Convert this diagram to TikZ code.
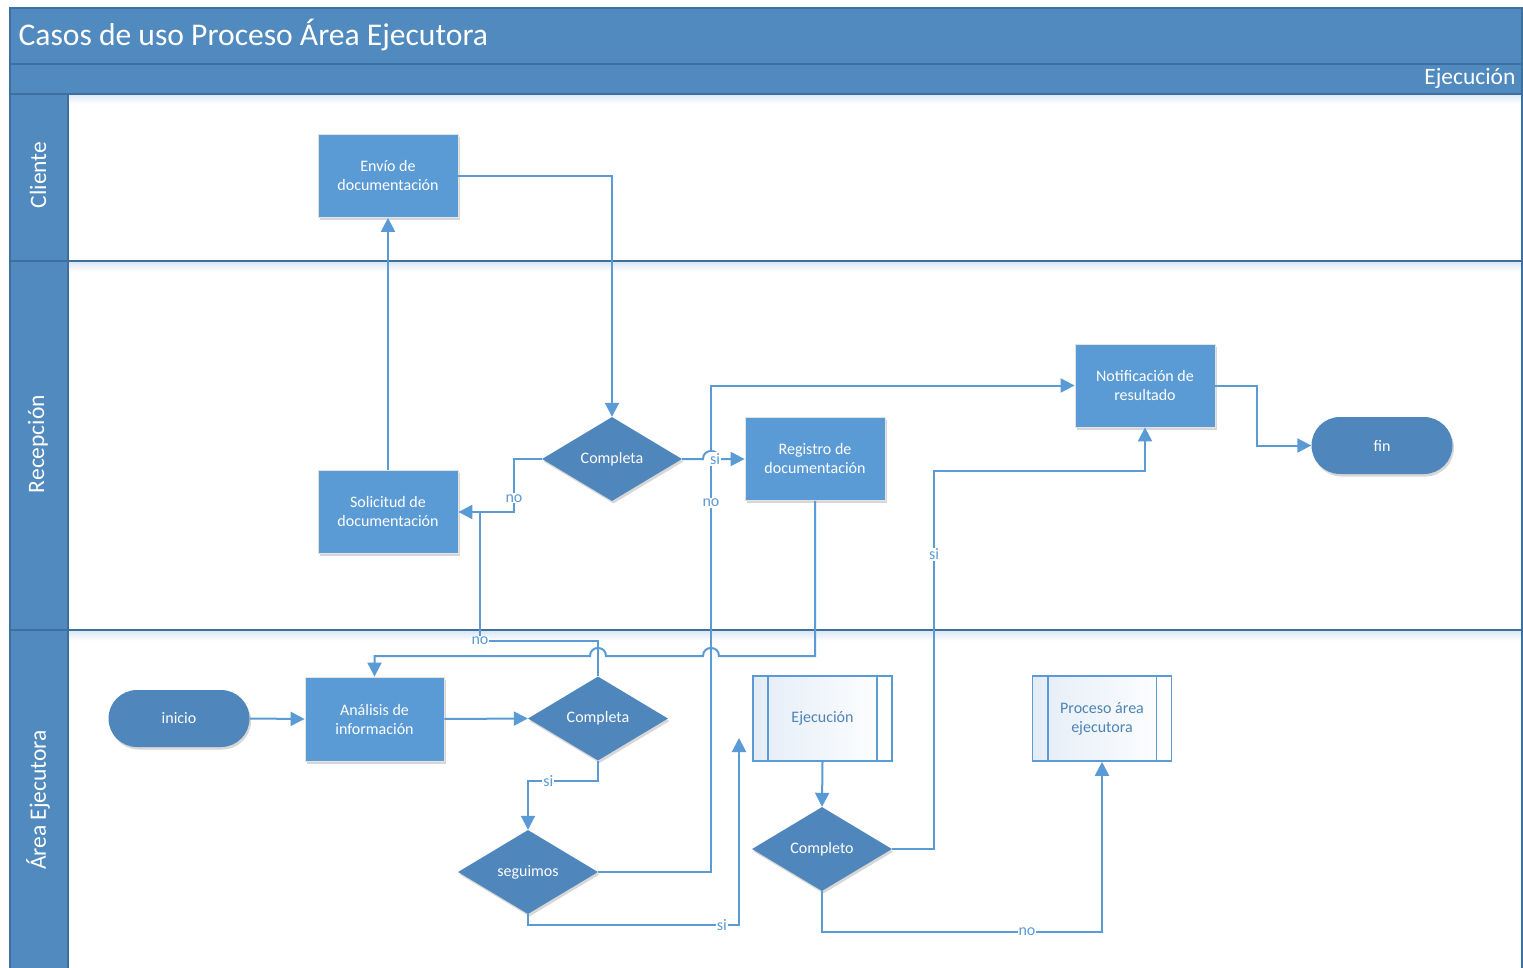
\documentclass[tikz,border=0pt]{standalone}
\usepackage{fontspec}
\setmainfont{Carlito}
\usetikzlibrary{arrows.meta,shapes.geometric,shadows,calc}

\definecolor{cBand}{HTML}{508ABE}
\definecolor{cBandLine}{HTML}{3F6F9F}
\definecolor{cProc}{HTML}{5B9BD5}
\definecolor{cDec}{HTML}{4F86BB}
\definecolor{cFlow}{HTML}{5B9BD5}
\definecolor{cHaze}{HTML}{DDE8F5}

\begin{document}
\begin{tikzpicture}[x=1pt,y=-1pt,
  softshadow/.style={drop shadow={shadow xshift=1.5pt,shadow yshift=-2.5pt,opacity=0.22,fill=black!70}},
  procbox/.style={rectangle,fill=cProc,draw=white!78!gray,line width=0.8pt,
    minimum width=140pt,minimum height=83pt,inner sep=2pt,text=white,align=center,
    font=\fontsize{16}{19}\selectfont,softshadow},
  decbox/.style={diamond,fill=cDec,draw=none,minimum width=140pt,minimum height=84pt,
    inner sep=0pt,text=white,font=\fontsize{16}{19}\selectfont,softshadow},
  termbox/.style={rectangle,rounded corners=28.5pt,fill=cDec,draw=none,minimum width=141pt,
    minimum height=57pt,text=white,font=\fontsize{16}{19}\selectfont,softshadow},
  subbox/.style={rectangle,left color=cHaze!80,right color=white,draw=cFlow,line width=1.6pt,
    minimum width=139pt,minimum height=85pt,text=cFlow!85!black,align=center,
    font=\fontsize{16}{19}\selectfont},
  flow/.style={draw=cFlow,line width=2pt,-{Triangle[length=14pt,width=14pt]}},
  flowline/.style={draw=cFlow,line width=2pt},
  lbl/.style={fill=white,inner sep=1pt,text=cFlow,font=\fontsize{16}{18}\selectfont},
  lanetitle/.style={rotate=90,text=white,font=\fontsize{23.5}{27}\selectfont},
]
\useasboundingbox (0,0) rectangle (1523,968);

% ---- swimlane frame ----
\fill[white] (10,94) rectangle (1522,975);
\shade[top color=cHaze,bottom color=white] (68,94) rectangle (1522,104);
\shade[top color=cHaze,bottom color=white] (68,262) rectangle (1522,272);
\shade[top color=cHaze,bottom color=white] (68,631) rectangle (1522,641);
\fill[cBand] (10,8) rectangle (1522,94);
\fill[cBand] (10,94) rectangle (68,975);
\draw[cBandLine,line width=1.5pt] (10,64) -- (1522,64);
\draw[cBandLine,line width=1.5pt] (10,94) -- (1522,94);
\draw[cBandLine,line width=1.5pt] (10,261) -- (1522,261);
\draw[cBandLine,line width=1.5pt] (10,630) -- (1522,630);
\draw[cBandLine,line width=1.5pt] (68,94) -- (68,975);
\draw[cBandLine,line width=1.5pt] (10,975) -- (10,8) -- (1522,8) -- (1522,975);

\node[anchor=west,text=white,font=\fontsize{31.6}{36}\selectfont] (title) at (15,35) {Casos de uso Proceso Área Ejecutora};
\node[anchor=east,text=white,font=\fontsize{23.5}{27}\selectfont] (phase) at (1519,78) {Ejecución};
\node[lanetitle] (laneA) at (38,175) {Cliente};
\node[lanetitle] (laneB) at (38,444) {Recepción};
\node[lanetitle] (laneC) at (38,800) {Área Ejecutora};

% ---- nodes ----
\node[procbox] (envio) at (388,176) {Envío de\\documentación};
\node[procbox] (solic) at (388,512) {Solicitud de\\documentación};
\node[decbox]  (comp1) at (612,459) {Completa};
\node[procbox] (reg)   at (815,459) {Registro de\\documentación};
\node[procbox] (notif) at (1145,385.5) {Notificación de\\resultado};
\node[termbox] (fin)   at (1382,445.5) {fin};

\node[termbox] (inicio) at (179,718.5) {inicio};
\node[procbox,minimum width=139pt,minimum height=84pt] (anal) at (374.5,719) {Análisis de\\información};
\node[decbox]  (comp2) at (598,718.5) {Completa};
\node[decbox]  (segu)  at (528,872) {seguimos};
\node[subbox]  (ejec)  at (822.5,718.5) {Ejecución};
\node[decbox]  (compl) at (822,849) {Completo};
\node[subbox]  (pae)   at (1102,718.5) {Proceso área\\ejecutora};

% inner bars of the sub-process boxes
\foreach \n in {ejec,pae}{
  \draw[cFlow,line width=1.6pt] ([xshift=16pt]\n.north west) -- ([xshift=16pt]\n.south west);
  \draw[cFlow,line width=1.6pt] ([xshift=-16pt]\n.north east) -- ([xshift=-16pt]\n.south east);
}

\coordinate (loose) at (739,738);

% ---- connectors ----
\draw[flow] (envio.east) -| (comp1.north);
\draw[flow] (comp1.west) -- (514,459) -- node[lbl,pos=0.74]{no} (514,512) -- (solic.east);
\draw[flow] (solic.north) -- (envio.south);
\draw[flow] (segu.east) -- (711,872) -- node[lbl,pos=0.759]{no} (711,385.5) -- (notif.west);
\draw[flow] (comp1.east) -- (703,459) .. controls (703,448.3) and (719,448.3) .. (719,459)
  -- (reg.west);
\node[lbl] (siA) at (715,459) {si};
\draw[flowline] (comp2.north) -- (598,641) -- node[lbl,pos=1]{no} (480,641) -- (480,512);
\draw[flow] (reg.south) -- (815,656) -- (719,656) .. controls (719,645.3) and (703,645.3) .. (703,656)
  -- (606,656) .. controls (606,645.3) and (590,645.3) .. (590,656) -- (374.5,656) -- (anal.north);
\draw[flow] (inicio.east) -- (anal.west);
\draw[flow] (anal.east) -- (comp2.west);
\draw[flow] (comp2.south) -- (598,781) -- node[lbl,pos=0.71]{si} (528,781) -- (segu.north);
\draw[flow] (segu.south) -- (528,925) -- node[lbl,pos=0.919]{si} (739,925) -- (loose);
\draw[flow] (ejec.south) -- (compl.north);
\draw[flow] (compl.east) -- (934,849) -- node[lbl,pos=0.78]{si} (934,471) -- (1145,471) -- (notif.south);
\draw[flow] (compl.south) -- (822,932) -- node[lbl,pos=0.732]{no} (1102,932) -- (pae.south);
\draw[flow] (notif.east) -- (1257,385.5) -- (1257,445.5) -- (fin.west);
\end{tikzpicture}
\end{document}
